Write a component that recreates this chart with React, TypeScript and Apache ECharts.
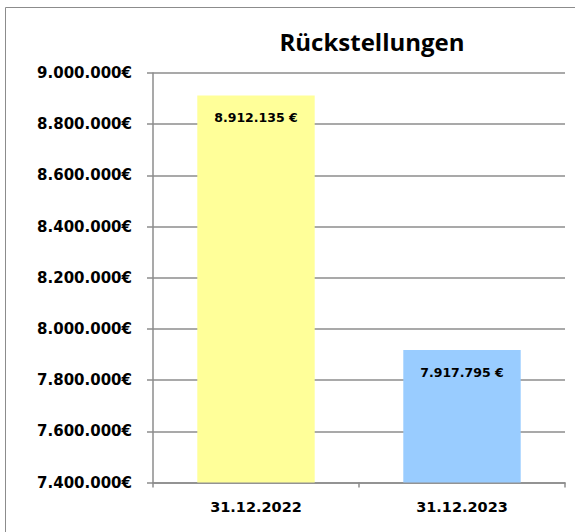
import React, { useEffect, useRef } from "react";
import * as echarts from "echarts";

const categories = ["31.12.2022", "31.12.2023"];
const values = [8912135, 7917795];
const barColors = ["#FFFF99", "#99CCFF"];
const yMin = 7400000;
const yMax = 9000000;
const yInterval = 200000;
const title = "Rückstellungen";

const fmt = (v: number) => Math.round(v).toString().replace(/\B(?=(\d{3})+(?!\d))/g, ".");

export default function App() {
  const ref = useRef<HTMLDivElement>(null);
  useEffect(() => {
    if (!ref.current) return;
    const chart = echarts.init(ref.current, null, { renderer: "svg" });
    const font = "'DejaVu Sans', sans-serif";
    const titleFont = "'Open Sans', sans-serif";
    chart.setOption({
      animation: false,
      backgroundColor: "#fff",
      title: {
        text: title,
        left: 367,
        textAlign: "center",
        top: 24,
        textStyle: { fontFamily: titleFont, fontWeight: "bold", fontSize: 24, color: "#000" },
      },
      graphic: [
        {
          type: "rect",
          shape: { x: 5.5, y: 7.5, width: 700, height: 700 },
          style: { fill: "none", stroke: "#8c8c8c", lineWidth: 1 },
          silent: true,
        },
      ],
      grid: { left: 153, right: 10, top: 73, bottom: 49.5, containLabel: false },
      xAxis: {
        type: "category",
        data: categories,
        axisLine: { lineStyle: { color: "#8c8c8c", width: 1.5 } },
        axisTick: { show: true, length: 5, lineStyle: { color: "#8c8c8c", width: 1.5 } },
        axisLabel: { fontFamily: font, fontWeight: "bold", fontSize: 14.5, color: "#000", margin: 17 },
      },
      yAxis: {
        type: "value",
        min: yMin,
        max: yMax,
        interval: yInterval,
        axisLine: { show: true, lineStyle: { color: "#8c8c8c", width: 1.5 } },
        axisTick: { show: true, length: 6, lineStyle: { color: "#8c8c8c", width: 1.5 } },
        splitLine: { lineStyle: { color: "#8c8c8c", width: 1.5 } },
        axisLabel: {
          fontFamily: font,
          fontWeight: "bold",
          fontSize: 15,
          color: "#000",
          margin: 21,
          formatter: (v: number) => fmt(v) + "€",
        },
      },
      series: [
        {
          type: "bar",
          barWidth: "57%",
          data: values.map((v, i) => ({ value: v, itemStyle: { color: barColors[i] } })),
          label: {
            show: true,
            position: "insideTop",
            distance: 16,
            fontFamily: font,
            fontWeight: "bold",
            fontSize: 12.5,
            color: "#000",
            formatter: (p: any) => fmt(p.value) + " €",
          },
        },
      ],
    });
    return () => chart.dispose();
  }, []);
  return <div ref={ref} style={{ position: "fixed", left: 0, top: 0, width: 575, height: 532 }} />;
}
